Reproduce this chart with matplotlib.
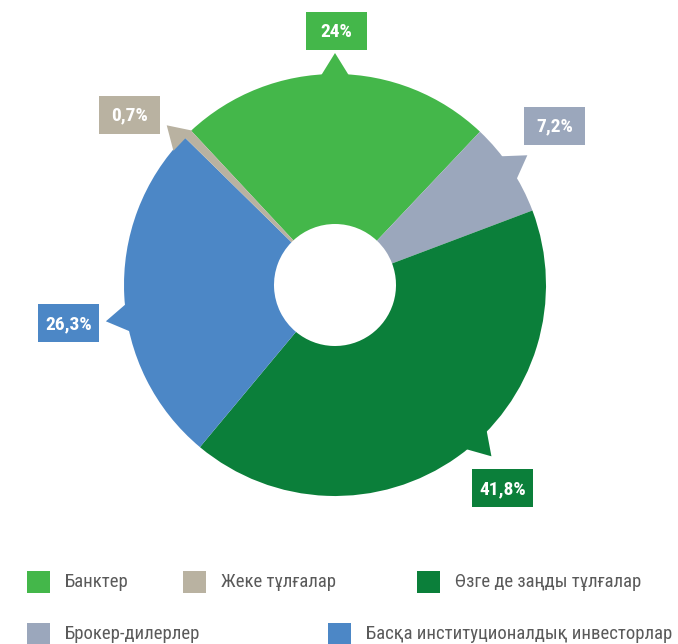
import matplotlib
matplotlib.use('Agg')
import matplotlib.pyplot as plt
from matplotlib import font_manager
from matplotlib.patches import Polygon, Rectangle
import numpy as np

# data
pie_labels = ['Банктер', 'Брокер-дилерлер', 'Өзге де заңды тұлғалар',
              'Басқа институционалдық инвесторлар', 'Жеке тұлғалар']
pie_values = [24, 7.2, 41.8, 26.3, 0.7]
pie_colors = ['#44B74A', '#9BA7BC', '#0B7F3A', '#4C87C6', '#B9B2A1']

legend_labels = ['Банктер', 'Жеке тұлғалар', 'Өзге де заңды тұлғалар',
                 'Брокер-дилерлер', 'Басқа институционалдық инвесторлар']

# pick a narrow face if one is around
installed = {f.name for f in font_manager.fontManager.ttflist}
narrow = [n for n in ('Liberation Sans Narrow', 'Roboto Condensed',
                      'Open Sans Condensed', 'Noto Sans Condensed',
                      'DejaVu Sans Condensed') if n in installed]
NARROW = bool(narrow)
FONT = (narrow[:1] or ['Roboto']) + ['DejaVu Sans']

W, H = 678, 644
fig = plt.figure(figsize=(W / 100, H / 100), dpi=100)
ax = fig.add_axes([0, 0, 1, 1])

cx, cy = 335, H - 285
R, r_hole = 211, 61

ax.pie(pie_values, colors=pie_colors, startangle=133, counterclock=False,
       radius=R, center=(cx, cy),
       wedgeprops=dict(width=R - r_hole, edgecolor='none', linewidth=0))

# pointer angle (deg) and label box centre (px, y up) for each slice
pointer_ang = [90, 34, -47.6, 189, 136.5]
box_xy = [(336.5, H - 31), (554.5, H - 125.5), (502.5, H - 488),
          (68.5, H - 323), (129.5, H - 114.5)]
box_w, box_h = 61, 38

for val, col, ang, (bx, by) in zip(pie_values, pie_colors, pointer_ang, box_xy):
    a0 = np.radians(ang - 3.8)
    a1 = np.radians(ang + 3.8)
    am = np.radians(ang)
    tri = [(cx + (R - 1) * np.cos(a0), cy + (R - 1) * np.sin(a0)),
           (cx + 232 * np.cos(am), cy + 232 * np.sin(am)),
           (cx + (R - 1) * np.cos(a1), cy + (R - 1) * np.sin(a1))]
    ax.add_patch(Polygon(tri, closed=True, facecolor=col, edgecolor='none', zorder=3))
    ax.add_patch(Rectangle((bx - box_w / 2, by - box_h / 2), box_w, box_h,
                           facecolor=col, edgecolor='none', zorder=4))
    txt = f'{val:g}'.replace('.', ',') + '%'
    ax.text(bx, by - 1, txt, ha='center', va='center', color='white',
            fontsize=14 if NARROW else 12.5, fontweight='bold', family=FONT,
            zorder=5)

# legend
leg_pos = [(27, H - 582), (183, H - 582), (417, H - 582),
           (27, H - 634), (328, H - 634)]
leg_colors = [pie_colors[pie_labels.index(l)] for l in legend_labels]
for lab, col, (lx, ly) in zip(legend_labels, leg_colors, leg_pos):
    ax.add_patch(Rectangle((lx, ly - 11), 23, 22, facecolor=col,
                           edgecolor='none', zorder=3))
    ax.text(lx + 38, ly, lab, ha='left', va='center', color='#5a5a5a',
            fontsize=13.5 if NARROW else 11, family=FONT)

ax.set_xlim(0, W)
ax.set_ylim(0, H)
ax.set_aspect('equal')
ax.axis('off')

fig.savefig('out.png', dpi=100, facecolor='white')
